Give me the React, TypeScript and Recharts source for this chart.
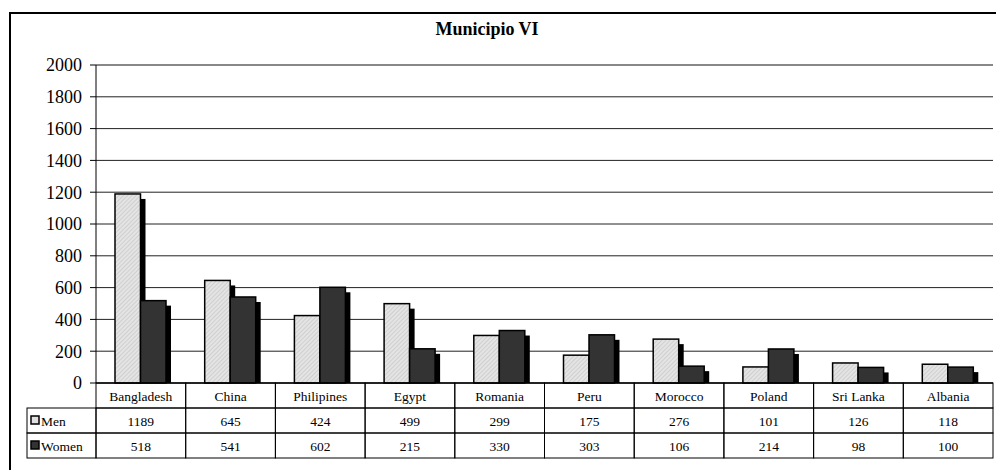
import React from 'react';
import { BarChart, Bar, XAxis, YAxis, CartesianGrid, ReferenceLine } from 'recharts';

const categories = ['Bangladesh', 'China', 'Philipines', 'Egypt', 'Romania', 'Peru', 'Morocco', 'Poland', 'Sri Lanka', 'Albania'];
const menValues = [1189, 645, 424, 499, 299, 175, 276, 101, 126, 118];
const womenValues = [518, 541, 602, 215, 330, 303, 106, 214, 98, 100];
const yTicks = [0, 200, 400, 600, 800, 1000, 1200, 1400, 1600, 1800, 2000];
const seriesNames = ['Men', 'Women'];
const seriesFills = ['url(#menHatch)', '#333333'];
const keyFills = ['#e0e0e0', '#333333'];

const data = categories.map((c, i) => ({ name: c, men: menValues[i], women: womenValues[i] }));

const W = 996;
const H = 470;
const MARGIN = { top: 65, right: 3, left: 10, bottom: 0 };
const Y_AXIS_W = 86;
const X_AXIS_H = 87;
const PLOT_LEFT = MARGIN.left + Y_AXIS_W;
const PLOT_RIGHT = W - MARGIN.right;
const PLOT_BOTTOM = H - MARGIN.bottom - X_AXIS_H;
const BAND = (PLOT_RIGHT - PLOT_LEFT) / categories.length;
const ROW_H = 25;
const LEGEND_LEFT = 27;
const FONT = "'Liberation Serif', 'Times New Roman', Times, serif";
const serif = { fontFamily: FONT };

const ShadowBar = (props: any) => {
  const { x, y, width, height, fill } = props;
  if (!height || height <= 0) return null;
  const d = 5;
  return (
    <g>
      {height > d && <rect x={x + d} y={y + d} width={width} height={height - d} fill="#000" />}
      <rect x={x} y={y} width={width} height={height} fill={fill} stroke="#000" strokeWidth={1.5} />
    </g>
  );
};

const TableTick = (props: any) => {
  const { x, index } = props;
  const left = x - BAND / 2;
  const top = PLOT_BOTTOM;
  const cells = [categories[index], String(menValues[index]), String(womenValues[index])];
  return (
    <g>
      {cells.map((t, r) => (
        <g key={r}>
          <rect x={left} y={top + r * ROW_H} width={BAND} height={ROW_H} fill="none" stroke="#000" strokeWidth={1} />
          <text x={x} y={top + r * ROW_H + ROW_H / 2 + 5} textAnchor="middle" style={{ ...serif, fontSize: 13.5 }} fill="#000">
            {t}
          </text>
        </g>
      ))}
      {index === 0 &&
        seriesNames.map((n, r) => (
          <g key={'l' + r}>
            <rect x={LEGEND_LEFT} y={top + (r + 1) * ROW_H} width={PLOT_LEFT - LEGEND_LEFT} height={ROW_H} fill="none" stroke="#000" strokeWidth={1} />
            <rect x={31} y={top + (r + 1) * ROW_H + 8} width={8} height={8} fill={keyFills[r]} stroke="#000" strokeWidth={1.5} />
            <text x={41} y={top + (r + 1) * ROW_H + ROW_H / 2 + 5} style={{ ...serif, fontSize: 13.5 }} fill="#000">
              {n}
            </text>
          </g>
        ))}
    </g>
  );
};

export default function App() {
  return (
    <div style={{ position: 'absolute', left: 0, top: 0, width: W, height: H, background: '#fff', overflow: 'hidden', ...serif }}>
      <svg width={W} height={H} style={{ position: 'absolute', left: 0, top: 0 }}>
        <defs>
          <pattern id="menHatch" patternUnits="userSpaceOnUse" width="3" height="3" patternTransform="rotate(45)">
            <rect width="3" height="3" fill="#e4e4e4" />
            <rect width="1" height="3" fill="#cfcfcf" />
          </pattern>
        </defs>
        <line x1={10} y1={13} x2={W} y2={13} stroke="#000" strokeWidth={2} />
        <line x1={10} y1={12} x2={10} y2={H} stroke="#000" strokeWidth={2} />
        <text x={487} y={35} textAnchor="middle" style={{ ...serif, fontSize: 18, fontWeight: 'bold' }} fill="#000">
          Municipio VI
        </text>
      </svg>
      <div style={{ position: 'absolute', left: 0, top: 0 }}>
        <BarChart width={W} height={H} data={data} margin={MARGIN} barGap={0} barSize={25.5} style={serif}>
          <CartesianGrid vertical={false} stroke="#222" strokeWidth={1} />
          <XAxis
            dataKey="name"
            height={X_AXIS_H}
            tickLine={false}
            axisLine={{ stroke: '#000', strokeWidth: 1 }}
            tick={<TableTick />}
            interval={0}
          />
          <YAxis
            domain={[0, 2000]}
            ticks={yTicks}
            width={Y_AXIS_W}
            tickSize={6}
            tickMargin={8}
            axisLine={{ stroke: '#000', strokeWidth: 1 }}
            tickLine={{ stroke: '#000' }}
            tick={{ style: { ...serif, fontSize: 18 }, fill: '#000' }}
            interval={0}
          />
          <YAxis
            yAxisId="right"
            orientation="right"
            width={0}
            domain={[0, 2000]}
            tick={false}
            tickLine={false}
            axisLine={{ stroke: '#888', strokeWidth: 2 }}
          />
          <ReferenceLine y={2000} stroke="#888" strokeWidth={2} />
          <Bar dataKey="men" name={seriesNames[0]} fill={seriesFills[0]} shape={<ShadowBar />} isAnimationActive={false} />
          <Bar dataKey="women" name={seriesNames[1]} fill={seriesFills[1]} shape={<ShadowBar />} isAnimationActive={false} />
        </BarChart>
      </div>
    </div>
  );
}
